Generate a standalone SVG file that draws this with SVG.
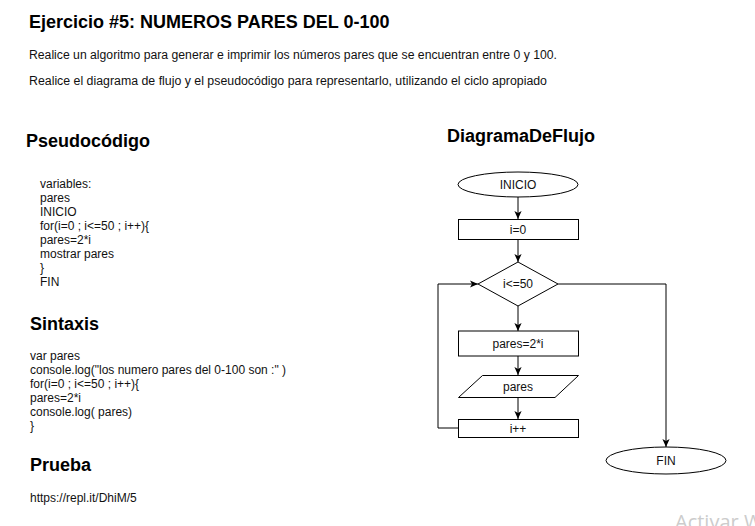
<svg xmlns="http://www.w3.org/2000/svg" width="755" height="526" viewBox="0 0 755 526">
<style>
.h{font-family:"Liberation Sans",Arial,sans-serif;font-weight:bold;font-size:18px;fill:#000}
.p{font-family:"Liberation Sans",Arial,sans-serif;font-size:12px;fill:#111}
.n{fill:#fff;stroke:#000;stroke-width:1}
.t{font-family:"Liberation Sans",Arial,sans-serif;font-size:12px;fill:#111;text-anchor:middle;dominant-baseline:central}
.c{fill:none;stroke:#000;stroke-width:1}
</style>
<defs>
<marker id="a" viewBox="0 0 10 10" refX="10" refY="5" markerWidth="8" markerHeight="8" markerUnits="userSpaceOnUse" orient="auto">
<path d="M0,0.5 L10,5 L0,9.5 L2.5,5 z" fill="#000"/>
</marker>
</defs>
<rect width="755" height="526" fill="#fff"/>
<g id="text">
<text class="h" x="29" y="28">Ejercicio #5: NUMEROS PARES DEL 0-100</text>
<text class="p" x="29" y="58.5" textLength="528" lengthAdjust="spacingAndGlyphs">Realice un algoritmo para generar e imprimir los números pares que se encuentran entre 0 y 100.</text>
<text class="p" x="29" y="85" textLength="518" lengthAdjust="spacingAndGlyphs">Realice el diagrama de flujo y el pseudocódigo para representarlo, utilizando el ciclo apropiado</text>
<text class="h" x="26" y="147">Pseudocódigo</text>
<text class="p" x="40" y="188">variables:</text>
<text class="p" x="40" y="202">pares</text>
<text class="p" x="40" y="216">INICIO</text>
<text class="p" x="40" y="230">for(i=0 ; i&lt;=50 ; i++){</text>
<text class="p" x="40" y="244">pares=2*i</text>
<text class="p" x="40" y="258">mostrar pares</text>
<text class="p" x="40" y="272">}</text>
<text class="p" x="40" y="286">FIN</text>
<text class="h" x="30" y="329.5">Sintaxis</text>
<text class="p" x="30" y="360">var pares</text>
<text class="p" x="30" y="374">console.log("los numero pares del 0-100 son :" )</text>
<text class="p" x="30" y="388">for(i=0 ; i&lt;=50 ; i++){</text>
<text class="p" x="30" y="402">pares=2*i</text>
<text class="p" x="30" y="416">console.log( pares)</text>
<text class="p" x="30" y="430">}</text>
<text class="h" x="30" y="471">Prueba</text>
<text class="p" x="30" y="502">https://repl.it/DhiM/5</text>
<text class="h" x="447" y="142">DiagramaDeFlujo</text>
</g>
<g id="connectors">
<line class="c" x1="518" y1="197" x2="518" y2="219" marker-end="url(#a)"/>
<line class="c" x1="518" y1="239" x2="518" y2="262" marker-end="url(#a)"/>
<line class="c" x1="518" y1="306" x2="518" y2="331" marker-end="url(#a)"/>
<line class="c" x1="518" y1="356" x2="518" y2="375" marker-end="url(#a)"/>
<line class="c" x1="518" y1="397" x2="518" y2="419" marker-end="url(#a)"/>
<polyline class="c" points="458,428 438,428 438,284 478,284" marker-end="url(#a)"/>
<polyline class="c" points="558,284 666,284 666,447" marker-end="url(#a)"/>
</g>
<g id="inicio">
<ellipse class="n" cx="518" cy="184.5" rx="60" ry="12.5"/>
<text class="t" x="518" y="184.5">INICIO</text>
</g>
<g id="init">
<rect class="n" x="458.5" y="219.5" width="120" height="20"/>
<text class="t" x="518" y="229.5">i=0</text>
</g>
<g id="cond">
<polygon class="n" points="518,262 558,284 518,306 478,284"/>
<text class="t" x="518" y="284">i&lt;=50</text>
</g>
<g id="calc">
<rect class="n" x="458.5" y="331" width="120" height="25"/>
<text class="t" x="518" y="343.5">pares=2*i</text>
</g>
<g id="output">
<polygon class="n" points="482.5,375.5 578.5,375.5 555,397.5 458.5,397.5"/>
<text class="t" x="518" y="386.5">pares</text>
</g>
<g id="incr">
<rect class="n" x="458.5" y="419.5" width="120" height="18"/>
<text class="t" x="518" y="428.5">i++</text>
</g>
<g id="fin">
<ellipse class="n" cx="666" cy="460.5" rx="60" ry="13.5"/>
<text class="t" x="666" y="460.5">FIN</text>
</g>
<text x="675" y="529" style="font-family:'Open Sans',sans-serif;font-size:20px;fill:#cccccc">Activar W</text>
</svg>
